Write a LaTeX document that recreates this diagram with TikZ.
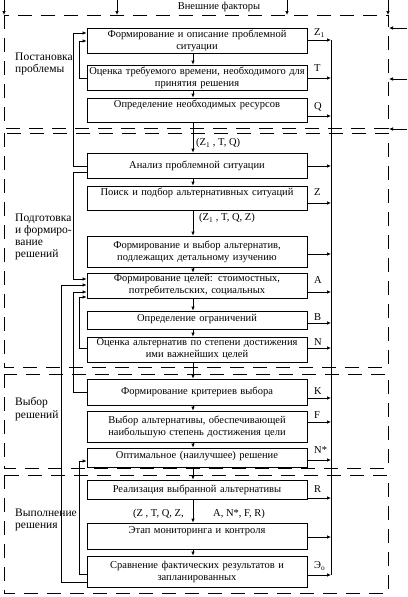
\documentclass[tikz,border=0pt]{standalone}
\usepackage{fontspec}
\setmainfont{Liberation Serif}
\usetikzlibrary{arrows.meta}

\tikzset{
  blok/.style={draw, line width=0.7pt, minimum width=220pt, text width=219pt,
    align=center, inner sep=0pt},
  frame/.style={line width=0.7pt, dash pattern=on 14pt off 9pt},
  ln/.style={line width=0.7pt},
  lnk/.style={line width=0.7pt, -{Latex[length=4pt,width=3.5pt]}},
  lbl/.style={anchor=west, inner sep=0pt},
  stage/.style={lbl, align=left, font=\fontsize{11.5}{12.3}\selectfont},
}

\begin{document}
\begin{tikzpicture}[x=1pt,y=-1pt,font=\fontsize{10.5}{12}\selectfont]
    \useasboundingbox (0,0) rectangle (407,597);

    % stages (dashed frames)
    \foreach \ya/\yb in {15/128,133/367,374/468,475/593}
      \draw[frame] (4,\ya) rectangle (388,\yb);

    \node (ext) at (219,7) {Внешние факторы};
    \foreach \x in {4,117,287,388}
      \draw[lnk] (\x,0) -- (\x,15);
    \foreach \y in {28,79,129}
      \draw[lnk] (407,\y) -- (389,\y);

    % stage names
    \node[stage] (st1) at (15,64) {Постановка\\проблемы};
    \node[stage] (st2) at (15,237) {Подготовка\\и формиро-\\вание\\решений};
    \node[stage] (st3) at (15,409) {Выбор\\решений};
    \node[stage] (st4) at (15,520) {Выполнение\\решения};

    % blocks
    \node[blok, minimum height=25pt] (b1) at (197,40.5) {Формирование и описание проблемной\\ситуации};
    \node[blok, minimum height=25pt] (b2) at (197,77.5) {Оценка требуемого времени, необходимого для\\принятия решения};
    \node[blok, minimum height=24pt] (b3) at (197,110) {Определение необходимых ресурсов\\\mbox{}};
    \node[blok, minimum height=25pt] (b4) at (197,165.5) {Анализ проблемной ситуации};
    \node[blok, minimum height=24pt] (b5) at (197,198) {Поиск и подбор альтернативных ситуаций\\\mbox{}};
    \node[blok, minimum height=31pt] (b6) at (197,251.5) {Формирование и выбор альтернатив,\\подлежащих детальному изучению};
    \node[blok, minimum height=25pt] (b7) at (197,285.5) {Формирование целей: стоимостных,\\потребительских, социальных};
    \node[blok, minimum height=18pt, text depth=4pt] (b8) at (197,320) {Определение ограничений};
    \node[blok, minimum height=25pt] (b9) at (197,349.5) {Оценка альтернатив по степени достижения\\ими важнейших целей};
    \node[blok, minimum height=26pt] (b10) at (197,392) {Формирование критериев выбора};
    \node[blok, minimum height=31pt] (b11) at (197,426.5) {Выбор альтернативы, обеспечивающей\\наибольшую степень достижения цели};
    \node[blok, minimum height=19pt, text depth=5pt] (b12) at (197,457.5) {Оптимальное (наилучшее) решение};
    \node[blok, minimum height=19pt] (b13) at (197,489.5) {Реализация выбранной альтернативы};
    \node[blok, minimum height=26pt] (b14) at (197,536) {Этап мониторинга и контроля\\\mbox{}};
    \node[blok, minimum height=31pt] (b15) at (197,571.5) {Сравнение фактических результатов и\\запланированных};

    % outputs
    \node[lbl] (oZ1) at (314,33) {Z\textsubscript{1}};
    \node[lbl] (oT) at (314,68) {T};
    \node[lbl] (oQ) at (314,107) {Q};
    \node[lbl] (oZ) at (314,192) {Z};
    \node[lbl] (oA) at (314,280) {A};
    \node[lbl] (oB) at (314,317) {B};
    \node[lbl] (oN) at (314,342) {N};
    \node[lbl] (oK) at (314,391) {K};
    \node[lbl] (oF) at (314,415) {F};
    \node[lbl] (oNs) at (314,450) {N*};
    \node[lbl] (oR) at (314,489) {R};
    \node[lbl] (oE) at (314,566) {Э\textsubscript{о}};

    \node[lbl] (f1) at (196,143) {(Z\textsubscript{1} , T, Q)};
    \node[lbl] (f2) at (199,218) {(Z\textsubscript{1} , T, Q, Z)};
    \node[lbl] (f3) at (133,514) {(Z , T, Q, Z,};
    \node[lbl] (f4) at (213,514) {A, N*, F, R)};

    % main flow
    \coordinate (axis) at (193,0);
    \foreach \a/\b in {b1/b2,b2/b3,b3/b4,b4/b5,b5/b6,b6/b7,b7/b8,b8/b9,b9/b10,
        b10/b11,b11/b12,b12/b13,b13/b14,b14/b15}
      \draw[lnk] (\a.south -| axis) -- (\b.north -| axis);

    % results bus
    \coordinate (bus) at (331,0);
    \draw[ln] (bus |- 0,40) -- (bus |- 0,575);
    \foreach \b/\y in {b1/40,b2/78,b3/116,b4/166,b5/203,b6/254,b7/292,b8/323,
        b9/348,b10/398,b11/422,b12/460,b13/498,b14/537,b15/575}
      \draw[lnk] (\b.east |- 0,\y) -- (bus |- 0,\y);

    % feedback
    \coordinate (c1) at (61,0);
    \coordinate (c2) at (73,0);
    \coordinate (c3) at (79.5,0);
    \foreach \s/\ys/\c/\t/\yt in {b2/78/c3/b1/41, b4/166/c2/b1/33, b4/172/c2/b7/279,
        b15/582/c1/b7/285, b10/392/c2/b7/292, b9/348/c3/b7/297, b15/574/c3/b12/461}
      \draw[lnk] (\s.west |- 0,\ys) -- (\c |- 0,\ys) -- (\c |- 0,\yt) -- (\t.west |- 0,\yt);

\end{tikzpicture}
\end{document}
